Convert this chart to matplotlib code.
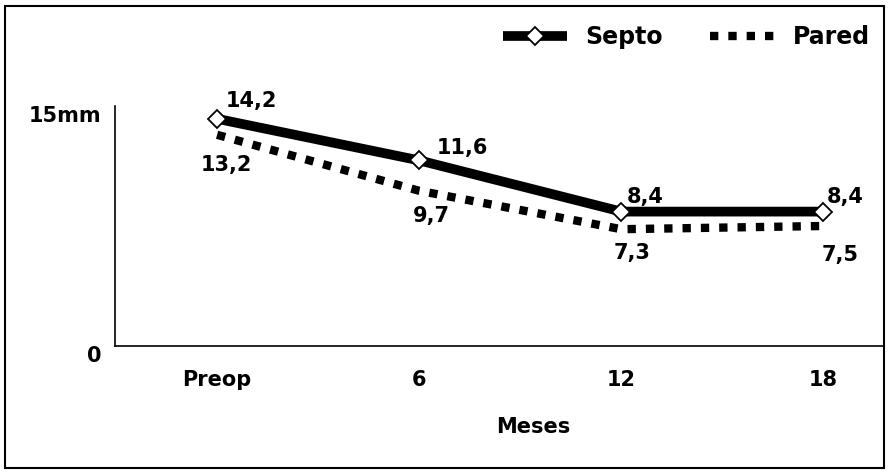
import matplotlib.pyplot as plt
from matplotlib.patches import Rectangle
from matplotlib.lines import Line2D
from matplotlib.transforms import ScaledTranslation

# data
meses = ["Preop", "6", "12", "18"]
septo = [14.2, 11.6, 8.4, 8.4]
pared = [13.2, 9.7, 7.3, 7.5]
septo_lbl = ["14,2", "11,6", "8,4", "8,4"]
pared_lbl = ["13,2", "9,7", "7,3", "7,5"]

plt.rcParams['font.family'] = ['DejaVu Sans']
plt.rcParams['font.weight'] = 'bold'

fig = plt.figure(figsize=(8.89, 4.73), dpi=100)
ax = fig.add_axes([0.1294, 0.2685, 0.865, 0.5074])

x = list(range(len(meses)))

# Pared: thick dotted line of squares
ax.plot(x, pared, color="black", lw=6, linestyle=(0, (1, 1.2)),
        dash_capstyle="butt", zorder=2)
# Septo: thick solid line, white diamonds
ax.plot(x, septo, color="black", lw=7, solid_capstyle="butt", zorder=3)
ax.plot(x, septo, linestyle="none", marker="D", ms=9, mfc="white",
        mec="black", mew=1.3, zorder=4)

fs = 15
# value labels (offsets in points)
s_off = [(25, 13), (31, 9), (17, 10.5), (16, 10.5)]
p_off = [(7, -22), (9, -18), (8, -17), (12, -21)]
for i in x:
    ax.annotate(septo_lbl[i], (i, septo[i]), xytext=s_off[i],
                textcoords="offset points", ha="center", va="center",
                fontsize=fs, fontweight="bold")
    ax.annotate(pared_lbl[i], (i, pared[i]), xytext=p_off[i],
                textcoords="offset points", ha="center", va="center",
                fontsize=fs, fontweight="bold")

ax.set_xlim(-0.505, 3.3)
ax.set_ylim(0, 15)
ax.set_yticks([0, 15])
ax.set_yticklabels(["0", "15mm"], fontsize=fs, fontweight="bold")
ax.set_xticks(x)
ax.set_xticklabels(meses, fontsize=fs, fontweight="bold")
ax.tick_params(length=0)
ax.tick_params(axis="x", pad=17)
ax.tick_params(axis="y", pad=10)
# y labels sit a little below their value
shift = ScaledTranslation(0, -6 / 72, fig.dpi_scale_trans)
for lab in ax.get_yticklabels():
    lab.set_transform(lab.get_transform() + shift)

ax.set_xlabel("Meses", fontsize=fs, fontweight="bold")
ax.xaxis.label.set_va("center")
ax.xaxis.set_label_coords(0.5436, -0.3375)

for s in ["top", "right"]:
    ax.spines[s].set_visible(False)
for s in ["left", "bottom"]:
    ax.spines[s].set_linewidth(1.2)
    ax.spines[s].set_color("black")

handles = [
    Line2D([], [], color="black", lw=7, marker="D", ms=9, mfc="white",
           mec="black", mew=1.3, solid_capstyle="butt"),
    Line2D([], [], color="black", lw=6, linestyle=(0, (1, 1.2)),
           dash_capstyle="butt"),
]
fig.legend(handles, ["Septo", "Pared"], loc="center left",
           bbox_to_anchor=(0.5658, 0.922), ncol=2, frameon=False,
           borderaxespad=0, borderpad=0,
           handlelength=2.7, handletextpad=0.8, columnspacing=2.0,
           prop={"size": 17, "weight": "bold"})

# outer border
fig.patches.append(Rectangle((0.006, 0.011), 0.988, 0.976,
                             transform=fig.transFigure, fill=False,
                             edgecolor="black", lw=1.5))

fig.savefig("out.png", dpi=100)
